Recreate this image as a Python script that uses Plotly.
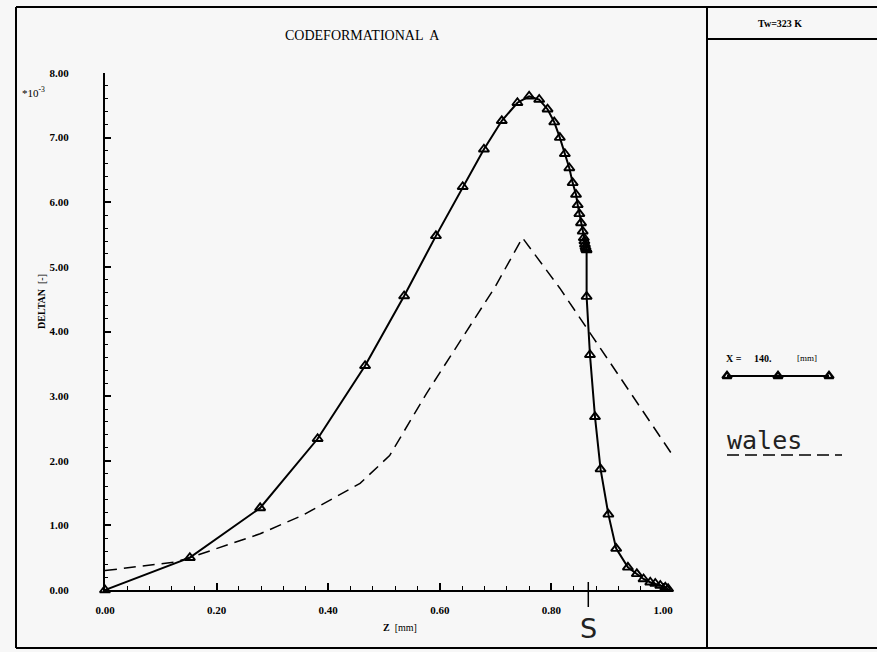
import plotly.graph_objects as go

# ---- data ----
z_solid = [0.0, 0.152, 0.278, 0.381, 0.466, 0.536, 0.593, 0.641, 0.679, 0.711,
           0.739, 0.760, 0.778, 0.793, 0.805, 0.815, 0.824, 0.832, 0.838, 0.844,
           0.847, 0.850, 0.853, 0.856, 0.858, 0.859, 0.860, 0.861, 0.862, 0.863,
           0.863, 0.869, 0.878, 0.888, 0.902, 0.916, 0.937, 0.953, 0.965, 0.977,
           0.986, 0.995, 1.004, 1.009]
d_solid = [0.00, 0.50, 1.27, 2.34, 3.47, 4.55, 5.48, 6.24, 6.82, 7.26,
           7.54, 7.64, 7.59, 7.44, 7.24, 7.00, 6.75, 6.53, 6.30, 6.12,
           5.96, 5.82, 5.68, 5.55, 5.45, 5.40, 5.35, 5.31, 5.28, 5.26,
           4.54, 3.64, 2.68, 1.87, 1.17, 0.64, 0.35, 0.25, 0.17, 0.12,
           0.10, 0.07, 0.04, 0.02]

z_dash = [0.0, 0.123, 0.152, 0.278, 0.355, 0.457, 0.510, 0.576, 0.699, 0.748, 0.815, 1.016]
d_dash = [0.30, 0.43, 0.50, 0.87, 1.16, 1.65, 2.08, 3.04, 4.69, 5.45, 4.67, 2.10]

x_ticks = [0.0, 0.2, 0.4, 0.6, 0.8, 1.0]
y_ticks = [0, 1, 2, 3, 4, 5, 6, 7, 8]
s_position = 0.866

legend_x = [0.0, 0.5, 1.0]
legend_y = [0.0, 0.0, 0.0]

W, H = 877, 652
def px(x):
    return x / W
def py(y):
    return 1 - y / H

SERIF = "Liberation Serif"
BG = "#f7f7f7"

fig = go.Figure()

fig.add_trace(go.Scatter(
    x=z_dash, y=d_dash, mode="lines",
    line=dict(color="black", width=1.5, dash="12px,7px"),
    cliponaxis=False, showlegend=False, hoverinfo="skip"))

fig.add_trace(go.Scatter(
    x=z_solid, y=d_solid, mode="lines+markers",
    line=dict(color="black", width=2),
    marker=dict(symbol="triangle-up-open", size=9, color="black",
                line=dict(width=1.9, color="black")),
    cliponaxis=False, showlegend=False))

# legend sample in the right panel
fig.add_trace(go.Scatter(
    x=legend_x, y=legend_y, mode="lines+markers", xaxis="x2", yaxis="y2",
    line=dict(color="black", width=2),
    marker=dict(symbol="triangle-up-open", size=8, color="black",
                line=dict(width=2.4, color="black")),
    cliponaxis=False, showlegend=False, hoverinfo="skip"))

tickfont = dict(family=SERIF, size=11, color="black", weight="bold")

fig.update_layout(
    width=W, height=H, autosize=False,
    margin=dict(l=0, r=0, t=0, b=0, pad=0, autoexpand=False),
    paper_bgcolor=BG, plot_bgcolor=BG,
    showlegend=False,
    xaxis=dict(
        domain=[px(105), px(672)], range=[0, 1.016], anchor="y",
        automargin=False,
        showline=True, linecolor="black", linewidth=2,
        ticks="inside", ticklen=7, tickwidth=1.5, tickcolor="black",
        tickvals=x_ticks, tickformat=".2f", tickfont=tickfont,
        ticklabelstandoff=9,
        minor=dict(dtick=0.04, tick0=0, ticks="inside", ticklen=4,
                   tickwidth=1, tickcolor="black"),
        showgrid=False, zeroline=False),
    yaxis=dict(
        domain=[py(590), py(73)], range=[0, 8], anchor="x",
        automargin=False,
        showline=True, linecolor="black", linewidth=2,
        ticks="inside", ticklen=6, tickwidth=1.5, tickcolor="black",
        tickvals=y_ticks, tickformat=".2f", tickfont=tickfont,
        ticklabelstandoff=32,
        minor=dict(dtick=0.2, tick0=0, ticks="inside", ticklen=3,
                   tickwidth=1, tickcolor="black"),
        showgrid=False, zeroline=False),
    xaxis2=dict(domain=[px(727), px(829)], range=[0, 1], anchor="y2",
                visible=False, fixedrange=True, automargin=False),
    yaxis2=dict(domain=[py(386), py(366)], range=[-1, 1], anchor="x2",
                visible=False, fixedrange=True, automargin=False),
)

frame = dict(color="black", width=2)
shapes = [
    # outer frame (left, top, bottom; right edge runs off the page)
    dict(type="line", xref="paper", yref="paper", x0=px(16), x1=px(16),
         y0=py(648), y1=py(7), line=frame),
    dict(type="line", xref="paper", yref="paper", x0=px(16), x1=1,
         y0=py(7), y1=py(7), line=frame),
    dict(type="line", xref="paper", yref="paper", x0=px(16), x1=1,
         y0=py(648), y1=py(648), line=frame),
    # right panel
    dict(type="line", xref="paper", yref="paper", x0=px(707), x1=px(707),
         y0=py(648), y1=py(7), line=frame),
    dict(type="line", xref="paper", yref="paper", x0=px(707), x1=1,
         y0=py(39), y1=py(39), line=frame),
    # S position tick
    dict(type="line", xref="x", yref="paper", x0=s_position, x1=s_position,
         y0=py(607), y1=py(582), line=dict(color="black", width=1.5)),
    # dashed underline of "wales"
    dict(type="line", xref="paper", yref="paper", x0=px(727), x1=px(842),
         y0=py(455), y1=py(455),
         line=dict(color="black", width=1.5, dash="12px,6px")),
]
fig.update_layout(shapes=shapes)


def note(text, x, y, size, family=SERIF, xanchor="center", angle=0,
         color="black"):
    return dict(text=text, xref="paper", yref="paper", x=px(x), y=py(y),
                xanchor=xanchor, yanchor="middle", showarrow=False,
                textangle=angle, font=dict(family=family, size=size,
                                           color=color))


ann = [
    note("CODEFORMATIONAL  A", 362, 35, 14),
    note("<b>Tw=323 K</b>", 780, 23, 10),
    note("*10<sup>-3</sup>", 20, 92, 11, xanchor="left"),
    note("<b>DELTAN</b>  [-]", 41, 302, 10, angle=-90),
    note("<b>Z</b>  [mm]", 400, 627, 10),
    note("S", 588, 628, 27, family="DejaVu Sans", color="#222222"),
    note("<b>X =</b>", 724, 358, 10, xanchor="left"),
    note("<b>140.</b>", 752, 358, 10, xanchor="left"),
    note("[mm]", 795, 358, 9, xanchor="left"),
    note("wales", 725, 440, 25, family="DejaVu Sans Mono", xanchor="left",
         color="#222222"),
]
fig.update_layout(annotations=ann)

fig.write_html("out.html",
               config={"displayModeBar": False},
               post_script="document.body.style.margin='0px';"
                           "document.body.style.overflow='hidden';")
